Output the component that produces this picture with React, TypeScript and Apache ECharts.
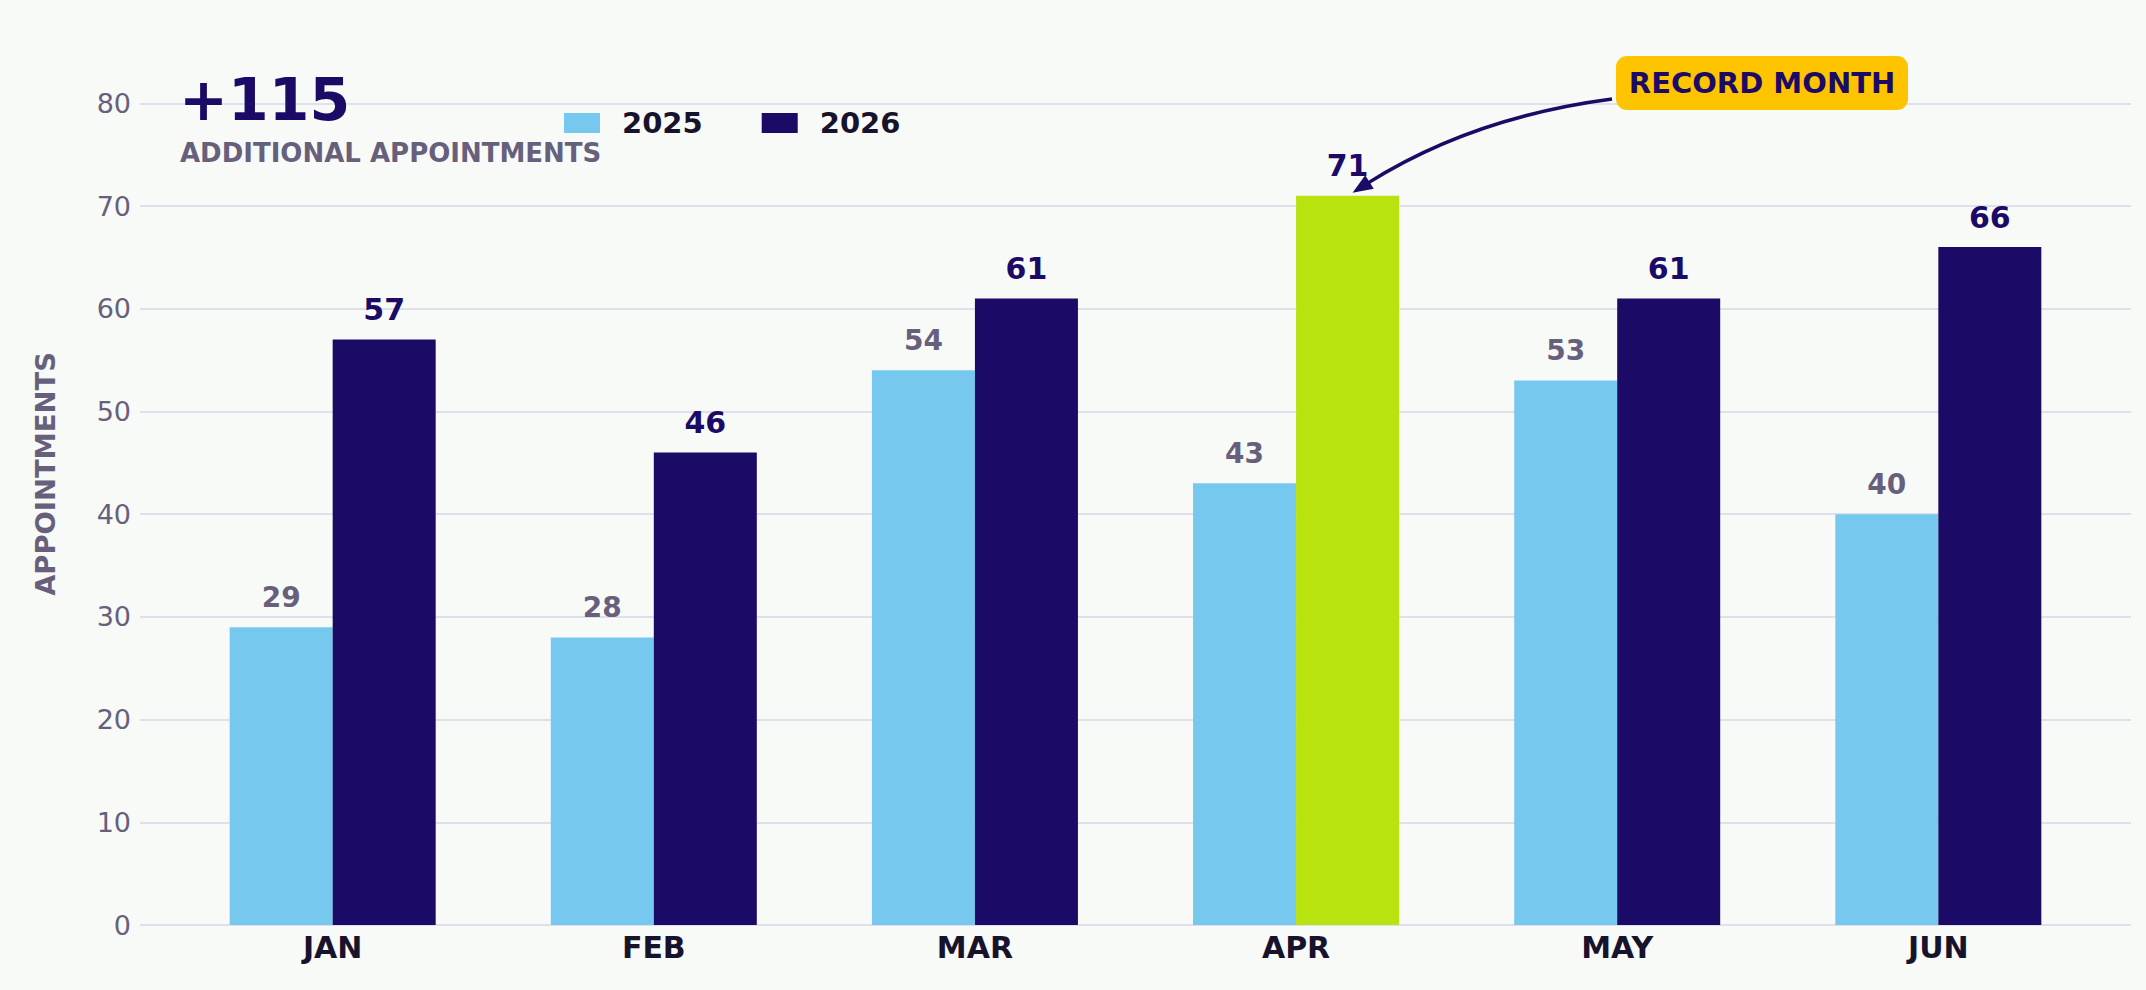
import React, { useEffect, useRef } from "react";
import * as echarts from "echarts";

const MONTHS = ["JAN", "FEB", "MAR", "APR", "MAY", "JUN"];
const VALUES_2025 = [29, 28, 54, 43, 53, 40];
const VALUES_2026 = [57, 46, 61, 71, 61, 66];
const SERIES_NAMES = ["2025", "2026"];
const Y_MIN = 0;
const Y_MAX = 80;
const Y_INTERVAL = 10;
const RECORD_INDEX = 3;
const RECORD_LABEL = "RECORD MONTH";
const SUBTITLE = "ADDITIONAL APPOINTMENTS";
const Y_NAME = "APPOINTMENTS";

const FONT = "DejaVu Sans";
const C_LIGHT = "#77c8ee";
const C_NAVY = "#1b0a66";
const C_GREEN = "#b8e30f";
const C_YELLOW = "#ffc400";
const C_GREY = "#67607c";
const C_DARK = "#17132d";
const C_GRID = "#d9d7ea";
const C_BG = "#f8faf7";
const BAR_W = 103;

export default function App() {
  const ref = useRef<HTMLDivElement>(null);

  useEffect(() => {
    if (!ref.current) return;
    const chart = echarts.init(ref.current, undefined, { renderer: "svg" });
    const added = VALUES_2026.reduce((s, v, i) => s + (v - VALUES_2025[i]), 0);

    const option: any = {
      animation: false,
      backgroundColor: C_BG,
      grid: { left: 140, right: 15, top: 103.3, bottom: 65, containLabel: false },
      legend: {
        data: SERIES_NAMES,
        left: 564,
        top: 108.5,
        padding: 0,
        itemWidth: 36,
        itemHeight: 20,
        itemGap: 59,
        icon: "rect",
        textStyle: {
          fontFamily: FONT,
          fontWeight: "bold",
          fontSize: 29,
          color: C_DARK,
          padding: [0, 0, 0, 17],
        },
      },
      xAxis: {
        type: "value",
        min: -0.6,
        max: MONTHS.length - 0.4,
        axisLine: { show: false },
        axisTick: { show: false },
        splitLine: { show: false },
        axisLabel: {
          customValues: MONTHS.map((_, i) => i),
          formatter: (v: number) => MONTHS[Math.round(v)] ?? "",
          fontFamily: FONT,
          fontWeight: "bold",
          fontSize: 30,
          color: C_DARK,
          margin: 7,
        },
      },
      yAxis: {
        type: "value",
        min: Y_MIN,
        max: Y_MAX,
        interval: Y_INTERVAL,
        axisLine: { show: false },
        axisTick: { show: false },
        axisLabel: { fontFamily: FONT, fontSize: 27, color: C_GREY, margin: 9 },
        splitLine: { lineStyle: { color: C_GRID, width: 1.5 } },
      },
      series: [
        {
          name: SERIES_NAMES[0],
          type: "bar",
          barWidth: BAR_W,
          barGap: "0%",
          itemStyle: { color: C_LIGHT },
          data: VALUES_2025.map((v, i) => [i, v]),
          label: {
            show: true,
            position: "top",
            distance: 16,
            formatter: (p: any) => String(p.value[1]),
            fontFamily: FONT,
            fontWeight: "bold",
            fontSize: 28,
            color: C_GREY,
          },
        },
        {
          name: SERIES_NAMES[1],
          type: "bar",
          barWidth: BAR_W,
          barGap: "0%",
          itemStyle: { color: C_NAVY },
          data: VALUES_2026.map((v, i) =>
            i === RECORD_INDEX ? { value: [i, v], itemStyle: { color: C_GREEN } } : [i, v]
          ),
          label: {
            show: true,
            position: "top",
            distance: 15,
            formatter: (p: any) => String(p.value[1]),
            fontFamily: FONT,
            fontWeight: "bold",
            fontSize: 30,
            color: C_NAVY,
          },
        },
      ],
    };
    chart.setOption(option);

    const base = chart.convertToPixel({ xAxisIndex: 0, yAxisIndex: 0 }, [
      RECORD_INDEX,
      VALUES_2026[RECORD_INDEX],
    ]) as number[];
    const tip = [base[0] + BAR_W / 2 + 5, base[1] - 3];
    const box = { x: 1616, y: 56, w: 292, h: 54 };
    const start = [box.x - 4, box.y + 43];
    const mid = [(start[0] + tip[0]) / 2, (start[1] + tip[1]) / 2];
    const dx = tip[0] - start[0];
    const dy = tip[1] - start[1];
    const len = Math.hypot(dx, dy);
    const rad = 0.11;
    const px = dy / len;
    const py = -dx / len;
    const sgn = py < 0 ? 1 : -1;
    const ctrl = [mid[0] + sgn * px * rad * len, mid[1] + sgn * py * rad * len];
    const ux0 = tip[0] - ctrl[0];
    const uy0 = tip[1] - ctrl[1];
    const ul = Math.hypot(ux0, uy0);
    const ux = ux0 / ul;
    const uy = uy0 / ul;
    const headL = 20;
    const headW = 8;
    const hb = [tip[0] - ux * headL, tip[1] - uy * headL];
    const lineEnd = [tip[0] - ux * (headL - 2), tip[1] - uy * (headL - 2)];

    chart.setOption({
      graphic: [
        {
          type: "text",
          id: "big",
          x: 179,
          y: 100,
          style: {
            text: `+${added}`,
            fontFamily: FONT,
            fontWeight: "bold",
            fontSize: 58.5,
            fill: C_NAVY,
            verticalAlign: "middle",
            align: "left",
          },
        },
        {
          type: "text",
          id: "sub",
          x: 180,
          y: 153,
          style: {
            text: SUBTITLE,
            fontFamily: FONT,
            fontWeight: "bold",
            fontSize: 26,
            fill: C_GREY,
            verticalAlign: "middle",
            align: "left",
          },
        },
        {
          type: "text",
          id: "yname",
          x: 45,
          y: 474,
          rotation: Math.PI / 2,
          style: {
            text: Y_NAME,
            fontFamily: FONT,
            fontWeight: "bold",
            fontSize: 27.4,
            fill: C_GREY,
            verticalAlign: "middle",
            align: "center",
          },
        },
        {
          type: "bezierCurve",
          id: "arrowLine",
          shape: {
            x1: start[0],
            y1: start[1],
            x2: lineEnd[0],
            y2: lineEnd[1],
            cpx1: ctrl[0],
            cpy1: ctrl[1],
          },
          style: { stroke: C_NAVY, lineWidth: 3.5, fill: null },
        },
        {
          type: "polygon",
          id: "arrowHead",
          shape: {
            points: [
              tip,
              [hb[0] - uy * headW, hb[1] + ux * headW],
              [hb[0] + uy * headW, hb[1] - ux * headW],
            ],
          },
          style: { fill: C_NAVY },
        },
        {
          type: "rect",
          id: "box",
          shape: { x: box.x, y: box.y, width: box.w, height: box.h, r: 11 },
          style: { fill: C_YELLOW },
        },
        {
          type: "text",
          id: "boxText",
          x: box.x + box.w / 2,
          y: box.y + box.h / 2,
          style: {
            text: RECORD_LABEL,
            fontFamily: FONT,
            fontWeight: "bold",
            fontSize: 29,
            fill: C_NAVY,
            verticalAlign: "middle",
            align: "center",
          },
        },
      ],
    });

    const onResize = () => chart.resize();
    window.addEventListener("resize", onResize);
    return () => {
      window.removeEventListener("resize", onResize);
      chart.dispose();
    };
  }, []);

  return (
    <div
      ref={ref}
      style={{ position: "fixed", left: 0, top: 0, width: "100vw", height: "100vh", background: C_BG }}
    />
  );
}
